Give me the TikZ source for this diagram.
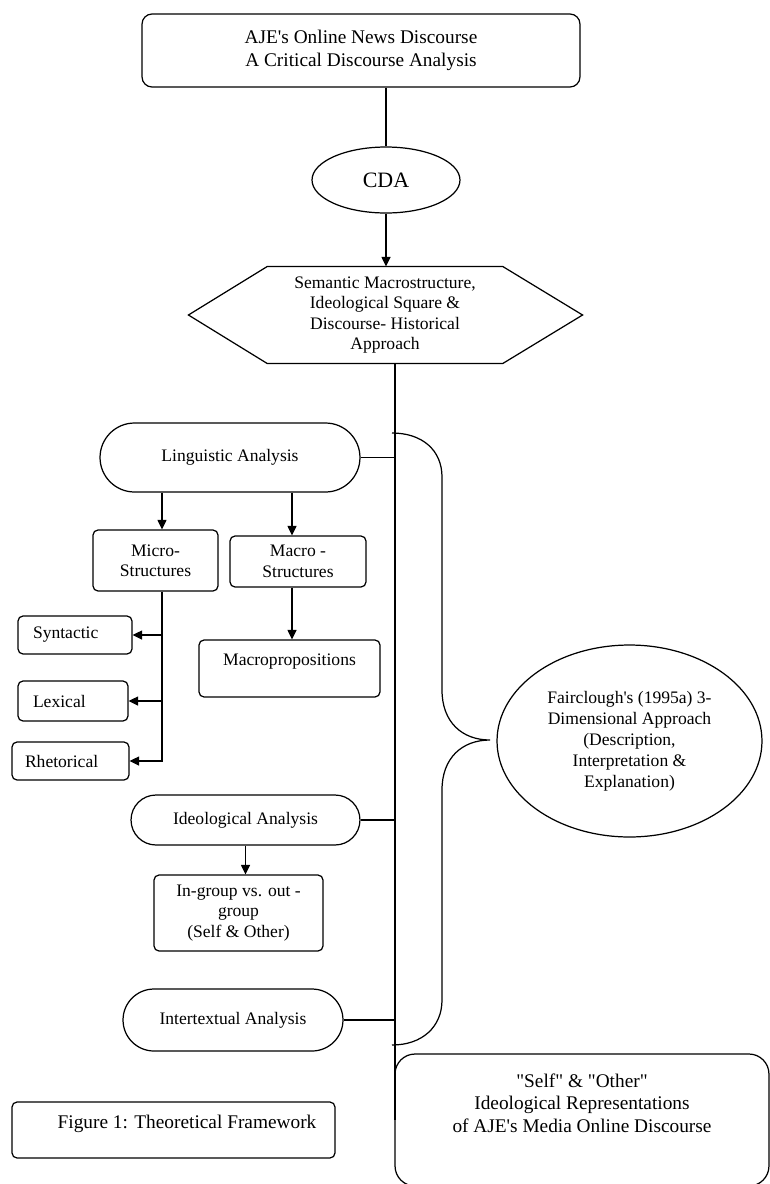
\documentclass[tikz,border=0pt]{standalone}
\usepackage{fontspec}
\setmainfont{Liberation Serif}[Ligatures=TeXOff]
\usetikzlibrary{arrows.meta,shapes.geometric,shapes.misc}
\def\toptext#1#2#3{\parbox[t][#2][t]{#1}{\centering #3}}

\tikzset{
	txt/.style={font=\fontsize{10}{11.6}\selectfont, align=center},
	box/.style={txt, draw, rounded corners=0.1cm, inner sep=0.1cm},
	pill/.style={txt, draw, rounded rectangle, inner sep=0},
	oval/.style={txt, draw, ellipse, inner sep=0},
	leaf/.style={box, align=left, inner xsep=0.3cm},
	arr/.style={-{Triangle[length=1.9mm,width=1.8mm]}},
}

\begin{document}
\begin{tikzpicture}[x=0.02cm, y=-0.02cm, line width=0.7pt]
			%%%%% START %%%%%
			\useasboundingbox (0,0) rectangle (770,1184);
			
			\node[box, rounded corners=0.2cm, minimum width=8.76cm, minimum height=1.46cm, font=\fontsize{11}{13}\selectfont] (title) at (361,50.5) {AJE's Online News Discourse\\A Critical Discourse Analysis};
			\node[oval, minimum width=2.96cm, minimum height=1.32cm, font=\fontsize{12.5}{14}\selectfont] (cda) at (386,180) {CDA};
			\node[txt, minimum width=4.68cm, minimum height=1.92cm, inner sep=0] (hex) at (385,315) {Semantic Macrostructure,\\Ideological Square \&\\Discourse- Historical\\Approach};
			\draw (hex.north west) -- (hex.north east) -- ([xshift=1.6cm]hex.east) -- (hex.south east) -- (hex.south west) -- ([xshift=-1.58cm]hex.west) -- cycle;
			\coordinate (trunk) at ([xshift=0.2cm]hex.south);
			
			\draw (cda.north |- title.south) -- (cda.north);
			\draw[arr] (cda.south) -- (cda.south |- hex.north);
			
			% linguistic branch
			\node[pill, minimum width=5.2cm, minimum height=1.38cm] (ling) at (230,457.5) {Linguistic Analysis};
			\node[box, minimum width=2.5cm, minimum height=1.22cm] (micro) at (155.5,560.5) {Micro-\\Structures};
			\node[box, minimum width=2.72cm, minimum height=1.02cm] (macro) at (298,561.5) {Macro -\\Structures};
			\node[box, inner xsep=0, inner ysep=0.27cm] (mprop) at (289.5,668.5) {\toptext{3.62cm}{0.6cm}{Macropropositions}};
			\node[leaf, text width=1.68cm, minimum height=0.76cm] (syn) at (75,635) {Syntactic};
			\node[leaf, text width=1.6cm, minimum height=0.8cm] (lex) at (73,701) {Lexical};
			\node[leaf, text width=1.82cm, inner xsep=0.26cm, minimum height=0.76cm] (rhet) at (70.5,761) {Rhetorical};
			
			\coordinate (split) at ([xshift=0.13cm]micro.south);
			\coordinate (mcol) at ([xshift=-0.12cm]macro.south);
			\draw[arr] (ling.south -| split) -- (micro.north -| split);
			\draw[arr] (ling.south -| mcol) -- (macro.north -| mcol);
			\draw[arr] (mcol) -- (mprop.north -| mcol);
			\draw[arr] (split) |- (rhet.east);
			\draw[arr] (split |- syn.east) -- (syn.east);
			\draw[arr] (split |- lex.east) -- (lex.east);
			
			% ideological and intertextual
			\node[pill, minimum width=4.58cm, minimum height=1.0cm] (ideo) at (245.5,820) {Ideological Analysis};
			\node[box, minimum width=3.38cm, minimum height=1.52cm] (ingrp) at (238.5,913) {In-group vs. out -\\group\\(Self \& Other)};
			\draw[arr] (ideo.south) -- (ideo.south |- ingrp.north);
			\node[pill, minimum width=4.4cm, minimum height=1.24cm] (inter) at (233,1020) {Intertextual Analysis};
			
			\foreach \n in {ling,ideo,inter}
				\draw (\n.east) -- (\n.east -| trunk);
			
			% brace and fairclough
			\draw (392,433) .. controls (422,433) and (442,450) .. (442,477) -- (442,690) .. controls (442,722) and (462,740) .. (490,740) .. controls (462,740) and (442,758) .. (442,790) -- (442,1000) .. controls (442,1027) and (422,1045) .. (392,1045);
			\node[oval, minimum width=5.3cm, minimum height=3.84cm, font=\fontsize{10}{12}\selectfont] (fair) at (629.5,741) {Fairclough's (1995a) 3-\\Dimensional Approach\\(Description,\\Interpretation \&\\Explanation)};
			
			\node[box, rounded corners=0.4cm, inner xsep=0, inner ysep=0.39cm, font=\fontsize{11}{13}\selectfont] (self) at (582,1120) {\toptext{7.48cm}{1.86cm}{"Self" \& "Other"\\Ideological Representations\\of AJE's Media Online Discourse}};
			\draw (trunk) -- (trunk |- self.west);
			
			\node[box, inner xsep=0, inner ysep=0.26cm, font=\fontsize{11}{13}\selectfont] (fig) at (173.5,1130) {\toptext{6.46cm}{0.6cm}{\hspace*{0.54cm}Figure 1: Theoretical Framework}};
			%%%%% END %%%%%
\end{tikzpicture}
\end{document}
